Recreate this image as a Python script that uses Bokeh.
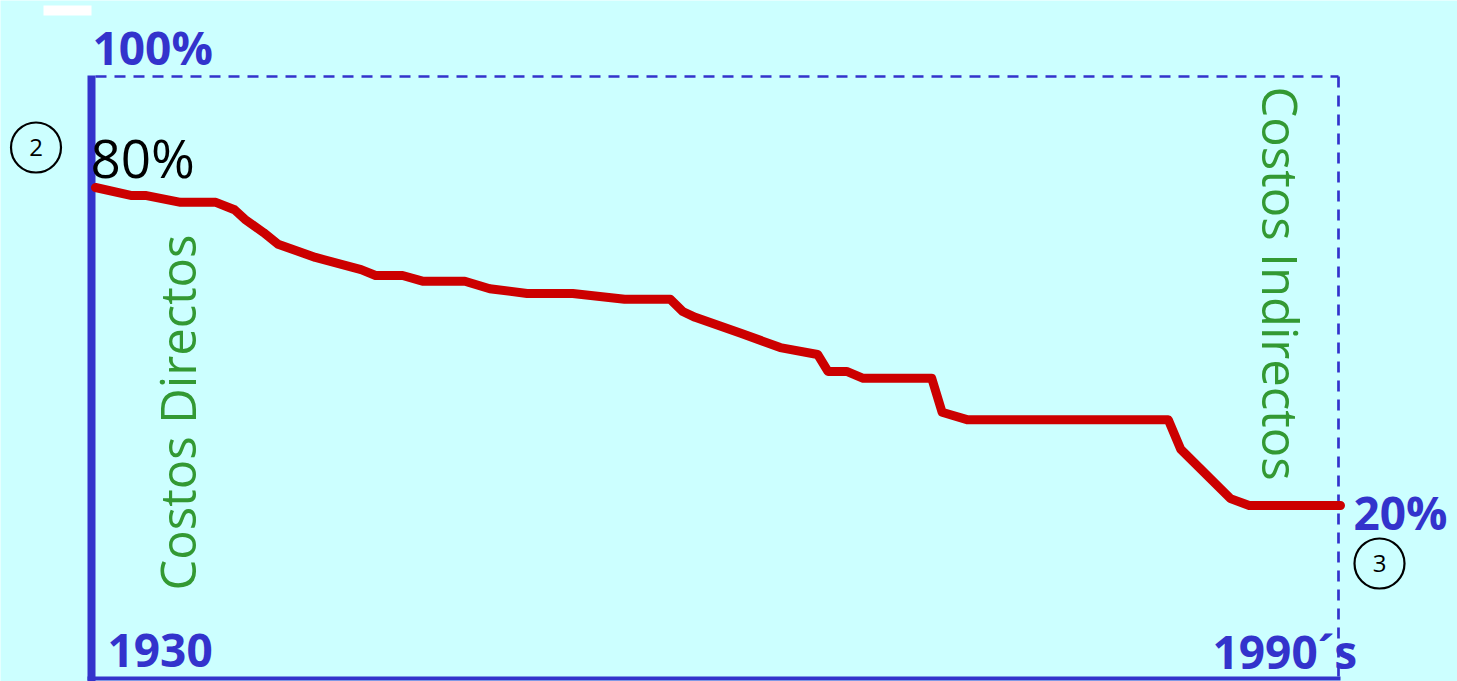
from bokeh.plotting import figure
from bokeh.models import Range1d
from bokeh.core.properties import value
from bokeh.embed import file_html
from bokeh.resources import INLINE
import math

# ---- data ----
years = [1930, 1931.7, 1932.4, 1934.1, 1935.8, 1936.7, 1937.2, 1938.1, 1938.8, 1940.6,
         1942.8, 1943.5, 1944.8, 1945.8, 1947.8, 1949.0, 1950.8, 1953.0, 1955.5, 1957.7,
         1958.3, 1958.9, 1961.1, 1963.0, 1964.8, 1965.3, 1966.2, 1967.0, 1970.3, 1970.8,
         1972.0, 1981.7, 1982.3, 1984.7, 1985.6, 1990]
direct_cost_pct = [80, 78.5, 78.5, 77.2, 77.2, 75.8, 74.0, 71.5, 69.3, 66.8,
                   64.5, 63.4, 63.4, 62.3, 62.3, 60.9, 60.0, 60.0, 58.9, 58.9,
                   56.6, 55.5, 52.5, 49.8, 48.5, 45.3, 45.3, 44.0, 44.0, 37.6,
                   36.2, 36.2, 30.6, 21.3, 20.0, 20.0]
top_label = "100%"
start_label = "80%"
end_label = "20%"
x_labels = ["1930", "1990\u00b4s"]
direct_label = "Costos Directos"
indirect_label = "Costos Indirectos"
marker_labels = ["2", "3"]

BG = "#CCFFFF"
BLUE = "#3333CC"
RED = "#CC0000"
GREEN = "#339933"
FONT = value("Open Sans")

W, H = 1457, 681


# page pixel -> data helpers (for annotation placement)
def X(px):
    return 1930 + (px - 95) / 20.75


def Y(py):
    return 80 - (py - 187) / 5.3


p = figure(width=W, height=H, output_backend="svg", toolbar_location=None,
           x_range=Range1d(X(0), X(W)), y_range=Range1d(Y(H), Y(0)),
           x_axis_location=None, y_axis_location=None, min_border=0,
           background_fill_color=BG, border_fill_color=BG, outline_line_color=None)
p.grid.visible = False

# white mark at top-left
p.quad(left=[X(43)], right=[X(91)], top=[Y(5)], bottom=[Y(15)],
       fill_color="white", line_color=None)

# dashed frame (top and right)
xr = X(1338)
p.line(x=[years[0], xr], y=[Y(76), Y(76)], line_color=BLUE,
       line_width=2.7, line_dash="11 8")
p.line(x=[xr, xr], y=[Y(76), Y(H)], line_color=BLUE,
       line_width=2.7, line_dash="11 8")

# bottom axis line
p.quad(left=[X(87)], right=[X(1340)], top=[Y(676)], bottom=[Y(680)],
       fill_color=BLUE, line_color=None)
# left thick axis
p.quad(left=[X(87)], right=[years[0]], top=[Y(75)], bottom=[Y(H)],
       fill_color=BLUE, line_color=None)

# red series
p.line(x=years, y=direct_cost_pct, line_color=RED, line_width=9,
       line_join="round", line_cap="round")

# labels (vertically centred on the glyphs)
p.text(x=[X(92)], y=[Y(46.5)], text=[top_label], text_font=FONT, text_font_size="46px",
       text_color=BLUE, text_font_style="bold", text_baseline="middle")
p.text(x=[X(90)], y=[Y(156.5)], text=[start_label], text_font=FONT, text_font_size="53px",
       text_color="black", text_baseline="middle")
p.text(x=[X(1353)], y=[Y(511)], text=[end_label], text_font=FONT, text_font_size="46px",
       text_color=BLUE, text_font_style="bold", text_baseline="middle")
p.text(x=[X(107), X(1212)], y=[Y(650), Y(650)], text=x_labels, text_font=FONT,
       text_font_size="46px", text_color=BLUE, text_font_style="bold",
       text_baseline="middle")

# vertical green labels
p.text(x=[X(176.5)], y=[Y(590)], text=[direct_label], angle=math.pi / 2, text_font=FONT,
       text_font_size="49px", text_color=GREEN, text_baseline="middle",
       text_align="left")
p.text(x=[X(1280)], y=[Y(86)], text=[indirect_label], angle=-math.pi / 2, text_font=FONT,
       text_font_size="49px", text_color=GREEN, text_baseline="middle",
       text_align="left")

# circled markers
cx = [X(35.5), X(1379)]
cy = [Y(147), Y(563)]
p.scatter(x=cx, y=cy, marker="circle", size=50, fill_color=None, line_color="black",
          line_width=2.2)
p.text(x=cx, y=cy, text=marker_labels, text_font=FONT, text_font_size="24px",
       text_color="black", text_align="center", text_baseline="middle")

open("out.html", "w").write(file_html(p, INLINE))
